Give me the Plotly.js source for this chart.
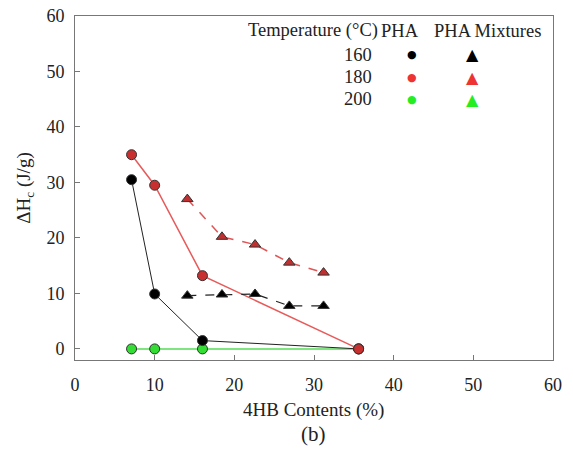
<!DOCTYPE html>
<html><head><meta charset="utf-8">
<script src="https://cdn.plot.ly/plotly-3.0.1.min.js"></script>
<style>body{margin:0;background:#fff}</style>
</head><body>
<div id="chart" style="width:573px;height:453px"></div>
<script>
// PHA (single) data
const phaX = [7.1, 10.0, 16.0, 35.6];
const pha160 = [30.5, 9.9, 1.5, 0];
const pha180 = [35.0, 29.5, 13.2, 0];
const pha200 = [0, 0, 0, 0];
// PHA Mixtures data
const mixX = [14.1, 18.45, 22.6, 26.9, 31.2];
const mix160 = [9.6, 9.8, 9.9, 7.75, 7.75];
const mix180 = [27.0, 20.2, 18.8, 15.55, 13.75];
// Legend
const temps = ['160', '180', '200'];
const legendColors = ['#000000', '#ee3333', '#22ee22'];

const font = 'Liberation Serif, Times New Roman, serif';
const L = 75, R = 553, T = 16, B = 360;
const px = v => (v - L) / (R - L);
const py = v => (B - v) / (B - T);

const traces = [
  {x: phaX, y: pha200, mode: 'lines+markers', cliponaxis: false, line: {color: '#55dd55', width: 1.5},
   marker: {symbol: 'circle', size: 10, color: '#33dd33', line: {color: '#333', width: 1}}},
  {x: phaX, y: pha160, mode: 'lines+markers', cliponaxis: false, line: {color: '#222', width: 1},
   marker: {symbol: 'circle', size: 10, color: '#000', line: {color: '#333', width: 1}}},
  {x: phaX, y: pha180, mode: 'lines+markers', cliponaxis: false, line: {color: '#e85a5a', width: 1.5},
   marker: {symbol: 'circle', size: 10, color: '#c83030', line: {color: '#333', width: 1}}},
  {x: mixX, y: mix160, mode: 'lines+markers', cliponaxis: false, line: {color: '#222', width: 1.2, dash: 'dash'},
   marker: {symbol: 'triangle-up', size: 10, color: '#000', line: {color: '#333', width: 1}}},
  {x: mixX, y: mix180, mode: 'lines+markers', cliponaxis: false, line: {color: '#e05555', width: 1.5, dash: 'dash'},
   marker: {symbol: 'triangle-up', size: 10, color: '#c03030', line: {color: '#333', width: 1}}}
];

const annotations = [
  {text: 'Temperature (°C)', x: 313, y: 31},
  {text: 'PHA', x: 400, y: 31},
  {text: 'PHA Mixtures', x: 487, y: 31}
].map(a => ({text: a.text, xref: 'paper', yref: 'paper',
  x: px(a.x), y: py(a.y), showarrow: false,
  xanchor: 'center', yanchor: 'middle', font: {family: font, size: 18.5, color: '#222'}}));

temps.forEach((t, i) => {
  const yy = py(55 + i * 22);
  annotations.push({text: t, xref: 'paper', yref: 'paper', x: px(374), y: yy,
    showarrow: false, xanchor: 'right', yanchor: 'middle', font: {family: font, size: 18.5, color: '#222'}});
  annotations.push({text: '●', xref: 'paper', yref: 'paper', x: px(412), y: yy,
    showarrow: false, xanchor: 'center', yanchor: 'middle', font: {family: 'DejaVu Sans', size: 11, color: legendColors[i]}});
  annotations.push({text: '▲', xref: 'paper', yref: 'paper', x: px(472), y: yy,
    showarrow: false, xanchor: 'center', yanchor: 'middle', font: {family: 'DejaVu Sans', size: 16, color: legendColors[i]}});
});

annotations.push({text: '4HB Contents (%)', xref: 'paper', yref: 'paper', x: px(313), y: py(410),
  showarrow: false, xanchor: 'center', yanchor: 'middle', font: {family: font, size: 19, color: '#222'}});
annotations.push({text: '(b)', xref: 'paper', yref: 'paper', x: px(313), y: py(434),
  showarrow: false, xanchor: 'center', yanchor: 'middle', font: {family: font, size: 21, color: '#222'}});

const layout = {
  width: 573, height: 453,
  margin: {l: L, r: 573 - R, t: T, b: 453 - B},
  paper_bgcolor: '#fff', plot_bgcolor: '#fff',
  showlegend: false,
  font: {family: font, size: 18, color: '#222'},
  xaxis: {range: [0, 60], dtick: 10, showgrid: false, zeroline: false,
    showline: true, mirror: true, linecolor: '#777', linewidth: 1,
    ticks: 'inside', ticklen: 5, tickcolor: '#777', ticklabelstandoff: 8,
    tickfont: {family: font, size: 18, color: '#222'}},
  yaxis: {range: [-2, 60], tickvals: [0, 10, 20, 30, 40, 50, 60], showgrid: false, zeroline: false,
    showline: true, mirror: true, linecolor: '#777', linewidth: 1,
    ticks: 'inside', ticklen: 5, tickcolor: '#777', ticklabelstandoff: 6,
    tickfont: {family: font, size: 18, color: '#222'},
    title: {text: 'ΔH<sub>c</sub> (J/g)', font: {family: font, size: 19, color: '#222'}, standoff: 10}},
  annotations: annotations
};

Plotly.newPlot('chart', traces, layout, {displayModeBar: false, staticPlot: true});
</script>
</body></html>
